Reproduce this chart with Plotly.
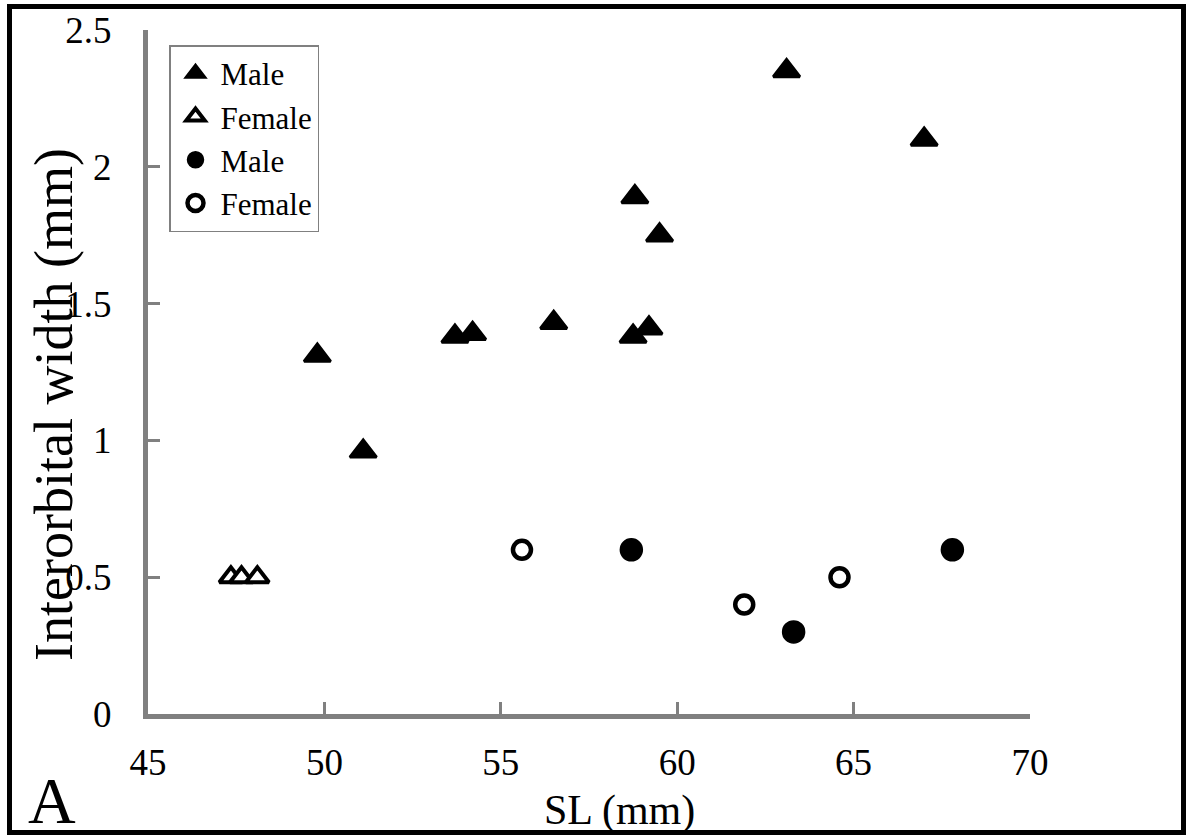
import plotly.graph_objects as go

# ---- data ----
tri_male_x = [49.8, 51.1, 53.7, 54.2, 56.5, 58.75, 59.2, 58.8, 59.5, 63.1, 67.0]
tri_male_y = [1.31, 0.96, 1.38, 1.39, 1.43, 1.38, 1.41, 1.89, 1.75, 2.35, 2.10]
tri_female_x = [47.35, 47.65, 48.1]
tri_female_y = [0.5, 0.5, 0.5]
circ_male_x = [58.7, 63.3, 67.8]
circ_male_y = [0.6, 0.3, 0.6]
circ_female_x = [55.6, 61.9, 64.6]
circ_female_y = [0.6, 0.4, 0.5]

x_ticks = [45, 50, 55, 60, 65, 70]
y_ticks = [0, 0.5, 1, 1.5, 2, 2.5]
y_tick_text = ["0", "0.5", "1", "1.5", "2", "2.5"]

FONT = "Liberation Serif, Times New Roman, serif"
GREY = "#808080"

W, H = 1186, 836
L, R, T, B = 148, 156, 30, 122
PW, PH = W - L - R, H - T - B


def px_x(p):
    return (p - L) / PW


def px_y(p):
    return (H - B - p) / PH


fig = go.Figure()
fig.add_trace(go.Scatter(
    x=tri_male_x, y=tri_male_y, mode="markers", name="Male",
    marker=dict(symbol="triangle-up", size=23, color="black",
                line=dict(color="black", width=3))))
fig.add_trace(go.Scatter(
    x=tri_female_x, y=tri_female_y, mode="markers", name="Female",
    marker=dict(symbol="triangle-up", size=20, color="white",
                line=dict(color="black", width=4))))
fig.add_trace(go.Scatter(
    x=circ_male_x, y=circ_male_y, mode="markers", name="Male",
    marker=dict(symbol="circle", size=22, color="black",
                line=dict(color="black", width=1.5))))
fig.add_trace(go.Scatter(
    x=circ_female_x, y=circ_female_y, mode="markers", name="Female",
    marker=dict(symbol="circle", size=18, color="white",
                line=dict(color="black", width=4.5))))

fig.update_layout(
    width=W, height=H,
    margin=dict(l=L, r=R, t=T, b=B, autoexpand=False),
    paper_bgcolor="white", plot_bgcolor="white",
    font=dict(family=FONT, color="black"),
    showlegend=True,
    legend=dict(
        x=px_x(169), y=px_y(45), xanchor="left", yanchor="top",
        bordercolor=GREY, borderwidth=1.5, bgcolor="white",
        font=dict(family=FONT, size=31, color="black"),
        tracegroupgap=0, itemwidth=40,
    ),
    xaxis=dict(
        range=[45, 70], tickmode="array", tickvals=x_ticks,
        showgrid=False, zeroline=False,
        showline=True, linecolor=GREY, linewidth=5,
        ticks="inside", ticklen=12, tickwidth=3, tickcolor=GREY,
        tickfont=dict(family=FONT, size=37, color="black"),
        ticklabelstandoff=12,
    ),
    yaxis=dict(
        range=[0, 2.5], tickmode="array", tickvals=y_ticks, ticktext=y_tick_text,
        showgrid=False, zeroline=False,
        showline=True, linecolor=GREY, linewidth=5,
        ticks="inside", ticklen=12, tickwidth=3, tickcolor=GREY,
        tickfont=dict(family=FONT, size=37, color="black"),
        ticklabelstandoff=24,
    ),
    annotations=[
        dict(text="Interorbital width (mm)", textangle=-90, showarrow=False,
             xref="paper", yref="paper", x=px_x(54), y=px_y(405),
             xanchor="center", yanchor="middle",
             font=dict(family=FONT, size=54, color="black")),
        dict(text="SL (mm)", showarrow=False,
             xref="paper", yref="paper", x=px_x(619), y=px_y(810),
             xanchor="center", yanchor="middle",
             font=dict(family=FONT, size=42, color="black")),
        dict(text="A", showarrow=False,
             xref="paper", yref="paper", x=px_x(52), y=px_y(800),
             xanchor="center", yanchor="middle",
             font=dict(family=FONT, size=66, color="black")),
    ],
    shapes=[
        dict(type="rect", xref="paper", yref="paper",
             x0=px_x(9.5), x1=px_x(1183.5), y0=px_y(832.5), y1=px_y(6.5),
             line=dict(color="black", width=5), fillcolor="rgba(0,0,0,0)"),
    ],
)

fig.write_html(
    "out.html",
    config={"displayModeBar": False},
    post_script="document.body.style.margin='0';document.body.style.overflow='hidden';",
)
